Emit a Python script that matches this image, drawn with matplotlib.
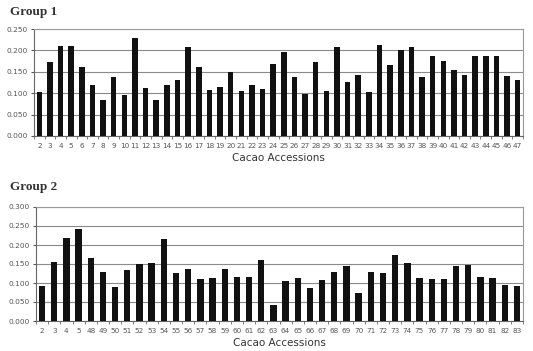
import numpy as np
import matplotlib.pyplot as plt

# Group 1 data
g1_labels = [str(i) for i in range(2, 48)]
g1_values = [0.102, 0.174, 0.211, 0.211, 0.161, 0.119, 0.084, 0.137, 0.095, 0.228,
             0.113, 0.085, 0.118, 0.132, 0.208, 0.161, 0.108, 0.114, 0.150, 0.105,
             0.118, 0.110, 0.168, 0.197, 0.138, 0.098, 0.172, 0.106, 0.208, 0.126,
             0.142, 0.102, 0.212, 0.165, 0.200, 0.208, 0.139, 0.186, 0.176, 0.154,
             0.142, 0.187, 0.186, 0.186, 0.140, 0.132]

# Group 2 data
g2_labels = ['2', '3', '4', '5'] + [str(i) for i in range(48, 84)]
g2_values = [0.092, 0.154, 0.219, 0.243, 0.165, 0.130, 0.090, 0.133, 0.149, 0.153,
             0.216, 0.127, 0.138, 0.110, 0.113, 0.138, 0.116, 0.116, 0.161, 0.043,
             0.105, 0.113, 0.086, 0.107, 0.128, 0.144, 0.075, 0.128, 0.126, 0.175,
             0.152, 0.114, 0.110, 0.110, 0.144, 0.147, 0.116, 0.113, 0.095, 0.092]

fig = plt.figure(figsize=(5.33, 3.51), dpi=100)
W, H = 533, 351

def draw(rect, labels, values, ymax, title, title_y):
    ax = fig.add_axes(rect)
    x = np.arange(len(values))
    ax.bar(x, values, width=0.52, color='#111111', zorder=3)
    ax.set_xlim(-0.5, len(values) - 0.5)
    ax.set_ylim(0, ymax)
    yt = np.arange(0, ymax + 0.001, 0.05)
    ax.set_yticks(yt)
    ax.set_yticklabels([f'{v:.3f}' for v in yt])
    ax.yaxis.grid(True, color='#8a8a8a', linewidth=0.8, zorder=0)
    ax.set_xticks(x)
    ax.set_xticklabels(labels)
    ax.set_xticks(np.arange(-0.5, len(values)), minor=True)
    ax.tick_params(axis='x', which='major', length=0, labelsize=5.2, colors='#555555', pad=5)
    ax.tick_params(axis='x', which='minor', length=2.5, color='#666666')
    ax.tick_params(axis='y', length=2.5, labelsize=5.3, colors='#555555', pad=2)
    for s in ['top', 'right']:
        ax.spines[s].set_color('#999999')
    for s in ['left', 'bottom']:
        ax.spines[s].set_color('#666666')
    ax.set_xlabel('Cacao Accessions', fontsize=7.5, color='#333333', labelpad=3)
    fig.text(10 / W, 1 - title_y / H, title, fontsize=9.5, fontweight='bold',
             family='Liberation Serif', color='#333333', va='center', ha='left')
    return ax

def rect(l, t, r, b):
    return [l / W, 1 - b / H, (r - l) / W, (b - t) / H]

draw(rect(34, 29, 523, 136), g1_labels, g1_values, 0.25, 'Group 1', 12)
draw(rect(36, 207, 523, 321), g2_labels, g2_values, 0.30, 'Group 2', 187)

fig.savefig('out.png', dpi=100)
